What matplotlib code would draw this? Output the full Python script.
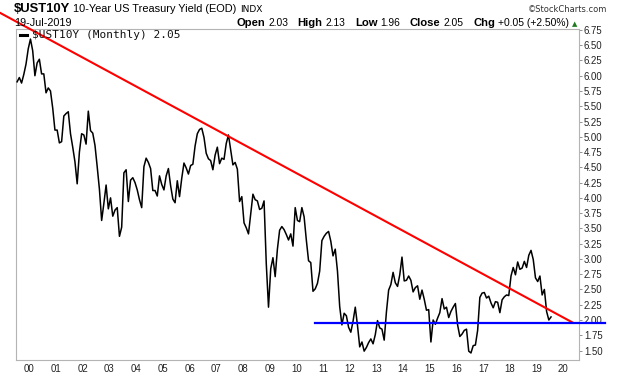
import matplotlib
matplotlib.use("Agg")
import matplotlib.pyplot as plt
import numpy as np

# ---- data (monthly closes, Jul-1999 .. Jul-2019) ----
y1999 = [5.90, 5.97, 5.88, 6.02, 6.19, 6.44]
y2000 = [6.60, 6.41, 6.00, 6.21, 6.27, 6.03, 6.03, 5.72, 5.80, 5.75, 5.47, 5.11]
y2001 = [5.11, 4.90, 4.92, 5.34, 5.38, 5.41, 5.05, 4.83, 4.59, 4.23, 4.75, 5.05]
y2002 = [5.03, 4.88, 5.42, 5.10, 5.06, 4.86, 4.51, 4.14, 3.63, 3.91, 4.21, 3.82]
y2003 = [4.00, 3.70, 3.80, 3.84, 3.37, 3.52, 4.41, 4.46, 3.94, 4.29, 4.33, 4.25]
y2004 = [4.13, 3.97, 3.84, 4.51, 4.65, 4.58, 4.48, 4.12, 4.12, 4.03, 4.36, 4.22]
y2005 = [4.13, 4.36, 4.48, 4.20, 3.98, 3.92, 4.28, 4.02, 4.32, 4.57, 4.49, 4.39]
y2006 = [4.53, 4.55, 4.85, 5.05, 5.12, 5.14, 4.99, 4.73, 4.64, 4.61, 4.46, 4.70]
y2007 = [4.83, 4.56, 4.65, 4.63, 4.89, 5.03, 4.78, 4.54, 4.58, 4.47, 3.94, 4.02]
y2008 = [3.59, 3.51, 3.41, 3.73, 4.06, 3.97, 3.95, 3.81, 3.83, 3.95, 2.92, 2.21]
y2009 = [2.84, 3.02, 2.71, 3.16, 3.47, 3.53, 3.48, 3.40, 3.31, 3.41, 3.21, 3.84]
y2010 = [3.63, 3.61, 3.84, 3.69, 3.31, 2.97, 2.94, 2.47, 2.51, 2.60, 2.80, 3.30]
y2011 = [3.37, 3.42, 3.45, 3.29, 3.05, 3.16, 2.80, 2.22, 1.92, 2.11, 2.07, 1.88]
y2012 = [1.80, 1.98, 2.21, 1.91, 1.56, 1.64, 1.49, 1.55, 1.63, 1.69, 1.61, 1.76]
y2013 = [1.99, 1.87, 1.85, 1.67, 2.13, 2.49, 2.58, 2.78, 2.61, 2.55, 2.74, 3.03]
y2014 = [2.64, 2.65, 2.72, 2.65, 2.46, 2.53, 2.56, 2.34, 2.49, 2.34, 2.16, 2.17]
y2015 = [1.64, 2.00, 1.93, 2.03, 2.12, 2.35, 2.18, 2.21, 2.04, 2.14, 2.21, 2.27]
y2016 = [1.92, 1.73, 1.77, 1.83, 1.85, 1.49, 1.46, 1.58, 1.59, 1.83, 2.37, 2.44]
y2017 = [2.45, 2.36, 2.39, 2.28, 2.20, 2.30, 2.29, 2.12, 2.33, 2.38, 2.41, 2.40]
y2018 = [2.72, 2.86, 2.74, 2.95, 2.83, 2.85, 2.96, 2.86, 3.06, 3.14, 2.99, 2.69]
y2019 = [2.63, 2.72, 2.41, 2.50, 2.14, 2.00, 2.05]

start_year = 1999
start_month = 7

year_ticks = list(range(2000, 2021))
year_labels = ["00", "01", "02", "03", "04", "05", "06", "07", "08", "09", "10",
               "11", "12", "13", "14", "15", "16", "17", "18", "19", "20"]
ytick_vals = [1.50, 1.75, 2.00, 2.25, 2.50, 2.75, 3.00, 3.25, 3.50, 3.75, 4.00,
              4.25, 4.50, 4.75, 5.00, 5.25, 5.50, 5.75, 6.00, 6.25, 6.50, 6.75]

# trend lines (annotations drawn on the chart)
resist_x = [1998.90, 2020.36]
resist_y = [7.03, 1.956]
support_x = [2010.70, 2021.56]
support_y = [1.956, 1.956]

values = (y1999 + y2000 + y2001 + y2002 + y2003 + y2004 + y2005 + y2006 + y2007 +
          y2008 + y2009 + y2010 + y2011 + y2012 + y2013 + y2014 + y2015 + y2016 +
          y2017 + y2018 + y2019)
idx = np.arange(len(values))
xs = start_year + (start_month - 1 + idx + 0.5) / 12.0

# ---- figure ----
W, H = 620, 376
fig = plt.figure(figsize=(W / 100, H / 100), dpi=100)
fig.patch.set_facecolor("white")
ax = fig.add_axes([16 / W, (H - 360.3) / H, (579.3 - 16) / W, (360.3 - 29) / H])

ax.plot(xs, values, color="black", lw=1.1, zorder=3)
ax.plot(resist_x, resist_y, color="#ff0000", lw=1.5, clip_on=False, zorder=4)
ax.plot(support_x, support_y, color="#0000ff", lw=1.6, clip_on=False, zorder=4)

ax.set_xlim(1999.50, 2020.60)
ax.set_ylim(1.34, 6.765)

gray = "#b4b4b4"
for s in ax.spines.values():
    s.set_color(gray)
    s.set_linewidth(0.8)

ax.yaxis.tick_right()
ax.set_yticks(ytick_vals)
ax.set_yticklabels([f"{v:.2f}" for v in ytick_vals])
ax.tick_params(axis="y", which="both", right=True, left=False, length=2.5, width=0.6,
               color="#808080", pad=0.8, labelsize=6.9, labelcolor="#222222")
ax.set_xticks(year_ticks)
ax.set_xticklabels(year_labels)
ax.tick_params(axis="x", length=0, pad=3.0, labelsize=6.9, labelcolor="#222222")
for lab in ax.get_xticklabels() + ax.get_yticklabels():
    lab.set_fontfamily("Liberation Sans")

# ---- header texts ----
fig.canvas.draw()
renderer = fig.canvas.get_renderer()
LS = "Liberation Sans"


def make_row(pieces, ybase):
    objs = []
    for txt, weight, size, color, gap, fam in pieces:
        t = fig.text(0, 1 - ybase / H, txt, fontsize=size, fontweight=weight,
                     color=color, family=fam, va="baseline", ha="left")
        w = t.get_window_extent(renderer).width
        objs.append((t, w, gap))
    return objs


def lay_left(objs, x0):
    x = x0
    for t, w, gap in objs:
        t.set_x(x / W)
        x += w + gap
    return x


def lay_right(objs, x_end):
    total = sum(w + g for _, w, g in objs) - objs[-1][2]
    return lay_left(objs, x_end - total)


row1 = make_row([("$UST10Y", "bold", 9.4, "black", 3.5, LS),
                 ("10-Year US Treasury Yield (EOD)", "normal", 7.9, "black", 3.5, LS),
                 ("INDX", "normal", 6.5, "black", 0, "DejaVu Sans")], 11.5)
lay_left(row1, 13.5)

fig.text(607 / W, 1 - 12 / H, "\u00a9StockCharts.com", fontsize=6.0, color="#333333",
         family="DejaVu Sans", ha="right", va="baseline")

fig.text(14 / W, 1 - 26 / H, "19-Jul-2019", fontsize=7.8, color="black",
         family=LS, ha="left", va="baseline")

row2 = make_row([("Open", "bold", 8.1, "black", 3.0, LS),
                 ("2.03", "normal", 7.4, "black", 9.5, LS),
                 ("High", "bold", 8.1, "black", 3.0, LS),
                 ("2.13", "normal", 7.4, "black", 9.5, LS),
                 ("Low", "bold", 8.1, "black", 3.0, LS),
                 ("1.96", "normal", 7.4, "black", 9.5, LS),
                 ("Close", "bold", 8.1, "black", 3.0, LS),
                 ("2.05", "normal", 7.4, "black", 9.5, LS),
                 ("Chg", "bold", 8.1, "black", 3.0, LS),
                 ("+0.05 (+2.50%)", "normal", 7.4, "black", 0, LS)], 26)
xe = lay_right(row2, 569)
fig.text((xe + 3) / W, 1 - 26 / H, "\u25b2", fontsize=5.0, color="#1e7a1e",
         family="DejaVu Sans", ha="left", va="baseline")

# legend line inside plot
fig.lines.append(plt.Line2D([20 / W, 27 / W], [1 - 34.5 / H, 1 - 34.5 / H],
                            transform=fig.transFigure, color="black", lw=2.2))
fig.text(31.5 / W, 1 - 38.5 / H, "$UST10Y (Monthly) 2.05", fontsize=8.0, color="#111111",
         family="DejaVu Sans Mono", ha="left", va="baseline")

fig.savefig("out.png", dpi=100)
